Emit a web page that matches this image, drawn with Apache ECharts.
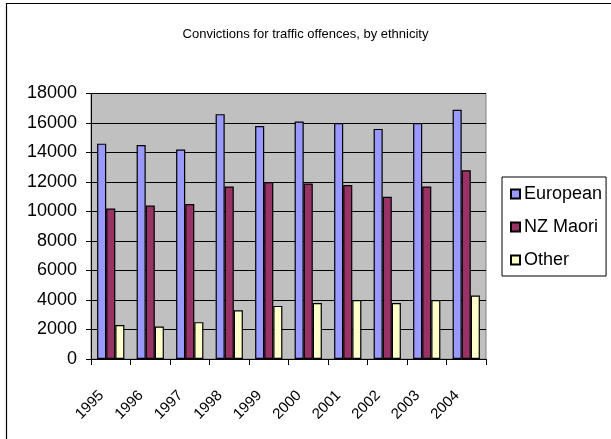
<!DOCTYPE html>
<html>
<head>
<meta charset="utf-8">
<script src="https://cdn.jsdelivr.net/npm/echarts@6/dist/echarts.min.js"></script>
<style>html,body{margin:0;padding:0;background:#fff}#c{width:611px;height:439px}</style>
</head>
<body>
<div id="c"></div>
<script>
var years = ['1995','1996','1997','1998','1999','2000','2001','2002','2003','2004'];
var european = [14600,14500,14200,16600,15800,16100,16000,15600,16000,16900];
var nzMaori = [10200,10400,10500,11700,12000,11900,11800,11000,11700,12800];
var other = [2300,2200,2500,3300,3600,3800,4000,3800,4000,4300];
var seriesNames = ['European','NZ Maori','Other'];
var seriesColors = ['#9999FF','#993366','#FFFFCC'];
var yMin = 0, yMax = 18000, yStep = 2000;

var chart = echarts.init(document.getElementById('c'));
var dataSets = [european, nzMaori, other];
var series = dataSets.map(function(d, i){
  return {
    name: seriesNames[i], type: 'bar', data: d,
    barGap: '0%', barCategoryGap: '31%',
    itemStyle: {color: seriesColors[i], borderColor: '#000', borderWidth: 1.2},
    emphasis: {disabled: true}
  };
});
chart.setOption({
  animation: false,
  backgroundColor: '#fff',
  graphic: [{type:'rect', shape:{x:6.5,y:3.5,width:700,height:700}, style:{fill:'none', stroke:'#000', lineWidth:1.2}, silent:true}],
  title: {
    text: 'Convictions for traffic offences, by ethnicity',
    left: 'center', top: 23,
    textStyle: {fontFamily: '"Liberation Sans",Arial,sans-serif', fontSize: 13, fontWeight: 'normal', color: '#000'}
  },
  legend: {
    orient: 'vertical', left: 502, top: 177,
    padding: [8, 4, 7, 8],
    itemWidth: 9, itemHeight: 9, itemGap: 15,
    icon: 'rect',
    borderColor: '#000', borderWidth: 1, backgroundColor: '#fff',
    textStyle: {fontFamily: '"Liberation Sans",Arial,sans-serif', fontSize: 18, color: '#000', lineHeight: 17, padding: [0,0,0,-1]},
    data: seriesNames
  },
  grid: {left: 91, top: 93.5, right: 125, bottom: 80, show: true, backgroundColor: '#C0C0C0', borderColor: '#808080', borderWidth: 1, containLabel: false},
  xAxis: {
    type: 'category', data: years, boundaryGap: true,
    axisLine: {lineStyle: {color: '#000'}},
    axisTick: {show: true, alignWithLabel: false, length: 6, lineStyle: {color: '#000'}},
    axisLabel: {rotate: 45, fontFamily: '"Liberation Sans",Arial,sans-serif', fontSize: 15, color: '#000', margin: 25, padding: [0,13,0,0], interval: 0}
  },
  yAxis: {
    type: 'value', min: yMin, max: yMax, interval: yStep,
    axisLine: {show: true, lineStyle: {color: '#000'}},
    axisTick: {show: true, length: 5, lineStyle: {color: '#000'}},
    axisLabel: {fontFamily: '"Liberation Sans",Arial,sans-serif', fontSize: 18, color: '#000', margin: 14, formatter: function(v){return String(v);}},
    splitLine: {show: true, lineStyle: {color: '#000', width: 1}}
  },
  series: series
});
</script>
</body>
</html>
